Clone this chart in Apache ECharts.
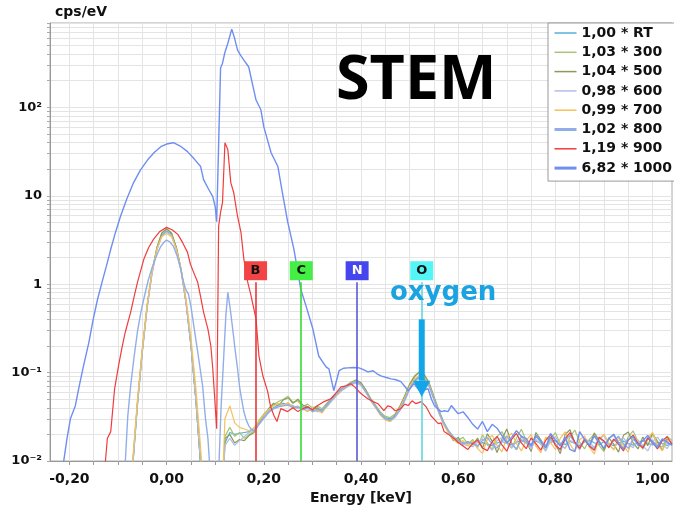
<!DOCTYPE html>
<html><head><meta charset="utf-8">
<script src="https://cdn.jsdelivr.net/npm/echarts@6/dist/echarts.min.js"></script>
<style>html,body{margin:0;padding:0;background:#fff}#c{width:674px;height:510px}</style>
</head><body><div id="c"></div>
<script>
// ---------------- DATA ----------------
const seriesNames = ['1,00 * RT','1,03 * 300','1,04 * 500','0,98 * 600','0,99 * 700','1,02 * 800','1,19 * 900','6,82 * 1000'];

// shared energy grid (keV) for the narrow-peak spectra
const peakEnergy = [-0.08,-0.07,-0.06,-0.05,-0.04,-0.03,-0.02,-0.01,0,0.01,0.02,0.03,0.04,0.05,0.06,0.07,0.08,0.09,0.10,0.11];
const midEnergy = [0.12,0.13,0.14,0.15,0.16,0.17,0.18,0.19,0.20,0.21,0.22,0.23,0.24,0.25,0.26,0.27,0.28,0.29,0.30,0.31,0.32,0.33,0.34,0.35,0.36,0.37,0.38,0.39,0.40,0.41,0.42,0.43,0.44,0.45,0.46,0.47,0.48,0.49,0.50,0.51,0.52,0.53,0.54,0.55,0.56,0.57,0.58,0.59,0.60,0.61,0.62];
const tailEnergy = [0.63,0.64,0.65,0.66,0.67,0.68,0.69,0.70,0.71,0.72,0.73,0.74,0.75,0.76,0.77,0.78,0.79,0.80,0.81,0.82,0.83,0.84,0.85,0.86,0.87,0.88,0.89,0.90,0.91,0.92,0.93,0.94,0.95,0.96,0.97,0.98,0.99,1.00,1.01,1.02,1.03,1.04];

// cps/eV on peakEnergy + midEnergy + tailEnergy
const cpsRT = [
 0.001,0.0085,0.044,0.175,0.56,1.35,2.5,3.6,4.0,3.65,2.55,1.42,0.62,0.21,0.052,0.0095,0.001,0.001,0.001,0.001,
 0.016,0.021,0.02,0.0205,0.021,0.0215,0.023,0.027,0.031,0.036,
 0.040,0.043,0.045,0.044,0.042,0.040,0.041,0.039,0.038,0.039,
 0.038,0.042,0.049,0.056,0.063,0.069,0.074,0.078,0.074,0.061,
 0.049,0.041,0.035,0.031,0.030,0.032,0.039,0.050,0.067,0.082,
 0.090,0.087,0.072,0.051,0.036,0.027,0.021,0.0185,0.017,0.0162,0.0158,
 0.0158,0.0150,0.0162,0.0155,0.0149,0.0160,0.0166,0.0158,0.0152,0.0163,
 0.0170,0.0161,0.0155,0.0167,0.0159,0.0151,0.0162,0.0171,0.0160,0.0154,
 0.0166,0.0158,0.0150,0.0164,0.0172,0.0161,0.0153,0.0165,0.0158,0.0149,
 0.0160,0.0168,0.0157,0.0151,0.0163,0.0170,0.0159,0.0152,0.0164,0.0157,
 0.0150,0.0161];
const cps300 = [
 0.001,0.009,0.046,0.18,0.58,1.4,2.6,3.8,4.25,3.8,2.6,1.45,0.63,0.21,0.051,0.009,0.001,0.001,0.001,0.001,
 0.019,0.024,0.019,0.021,0.018,0.02,0.022,0.029,0.034,0.038,
 0.043,0.047,0.05,0.054,0.046,0.048,0.041,0.044,0.04,0.042,
 0.039,0.045,0.052,0.058,0.066,0.072,0.078,0.083,0.076,0.064,
 0.051,0.043,0.036,0.032,0.031,0.034,0.042,0.055,0.074,0.092,
 0.102,0.096,0.077,0.054,0.038,0.028,0.022,0.019,0.0172,0.0185,0.0155,
 0.0175,0.0142,0.0198,0.0160,0.0135,0.0189,0.0215,0.0168,0.0140,0.0182,
 0.0228,0.0171,0.0145,0.0193,0.0160,0.0131,0.0178,0.0210,0.0155,0.0139,
 0.0186,0.0224,0.0164,0.0137,0.0175,0.0201,0.0150,0.0128,0.0180,0.0196,
 0.0158,0.0141,0.0188,0.0219,0.0166,0.0136,0.0174,0.0205,0.0153,0.0144,
 0.0191,0.0170];
const cps500 = [
 0.001,0.0088,0.045,0.178,0.57,1.38,2.58,3.78,4.2,3.78,2.6,1.44,0.62,0.2,0.05,0.009,0.001,0.001,0.001,0.001,
 0.018,0.02,0.016,0.0175,0.017,0.0195,0.021,0.026,0.033,0.039,
 0.045,0.042,0.049,0.052,0.045,0.05,0.043,0.041,0.037,0.04,
 0.036,0.044,0.051,0.059,0.065,0.071,0.077,0.082,0.077,0.063,
 0.05,0.041,0.034,0.03,0.029,0.033,0.041,0.054,0.073,0.09,
 0.1,0.094,0.076,0.053,0.037,0.027,0.0215,0.017,0.0185,0.0152,0.0166,
 0.0152,0.0181,0.0139,0.0203,0.0168,0.0125,0.0176,0.0230,0.0159,0.0134,
 0.0190,0.0166,0.0128,0.0210,0.0174,0.0143,0.0185,0.0157,0.0121,0.0198,
 0.0226,0.0162,0.0138,0.0179,0.0147,0.0208,0.0171,0.0133,0.0183,0.0155,
 0.0126,0.0195,0.0213,0.0160,0.0137,0.0187,0.0149,0.0204,0.0167,0.0131,
 0.0178,0.0158];
const cps600 = [
 0.001,0.0082,0.042,0.168,0.54,1.3,2.42,3.5,3.9,3.55,2.48,1.38,0.6,0.2,0.05,0.0092,0.001,0.001,0.001,0.001,
 0.015,0.018,0.015,0.017,0.019,0.021,0.023,0.026,0.03,0.035,
 0.039,0.042,0.043,0.045,0.041,0.039,0.04,0.037,0.039,0.036,
 0.037,0.041,0.048,0.055,0.062,0.068,0.073,0.076,0.072,0.06,
 0.048,0.04,0.034,0.03,0.028,0.031,0.037,0.048,0.064,0.079,
 0.087,0.084,0.07,0.05,0.035,0.026,0.021,0.0178,0.0163,0.0155,0.0149,
 0.0145,0.0163,0.0178,0.0151,0.0132,0.0170,0.0185,0.0158,0.0140,0.0166,
 0.0192,0.0160,0.0137,0.0175,0.0154,0.0129,0.0168,0.0189,0.0150,0.0139,
 0.0172,0.0158,0.0134,0.0181,0.0165,0.0142,0.0176,0.0194,0.0152,0.0136,
 0.0169,0.0183,0.0155,0.0141,0.0173,0.0149,0.0130,0.0167,0.0186,0.0156,
 0.0138,0.0171];
const cps700 = [
 0.001,0.01,0.05,0.19,0.6,1.4,2.5,3.45,3.75,3.45,2.5,1.45,0.68,0.25,0.068,0.014,0.002,0.001,0.001,0.001,
 0.03,0.042,0.027,0.024,0.023,0.022,0.024,0.028,0.033,0.038,
 0.042,0.045,0.043,0.046,0.04,0.042,0.039,0.036,0.04,0.037,
 0.035,0.042,0.05,0.056,0.064,0.07,0.076,0.08,0.073,0.061,
 0.048,0.04,0.033,0.029,0.028,0.032,0.04,0.052,0.07,0.085,
 0.093,0.089,0.073,0.051,0.036,0.026,0.0205,0.0175,0.0158,0.017,0.0148,
 0.0169,0.0138,0.0122,0.0176,0.0195,0.0150,0.0127,0.0183,0.0206,0.0158,
 0.0130,0.0171,0.0199,0.0147,0.0124,0.0187,0.0162,0.0135,0.0180,0.0214,
 0.0155,0.0128,0.0174,0.0192,0.0143,0.0120,0.0178,0.0201,0.0160,0.0133,
 0.0185,0.0148,0.0126,0.0190,0.0167,0.0139,0.0181,0.0210,0.0153,0.0131,
 0.0172,0.0163];

// [energy keV, cps/eV] up to 0.62 keV, then values on tailEnergy
const head800 = [[-0.087,0.005],[-0.085,0.0098],[-0.08,0.032],[-0.074,0.071],[-0.067,0.15],[-0.06,0.29],[-0.053,0.48],[-0.047,0.68],[-0.038,1.1],[-0.029,1.6],[-0.02,2.15],[-0.012,2.68],[-0.005,3.0],[0,3.15],[0.007,3.0],[0.014,2.68],[0.022,2.05],[0.029,1.48],[0.034,1.1],[0.039,0.88],[0.045,0.77],[0.05,0.56],[0.054,0.4],[0.059,0.26],[0.064,0.171],[0.069,0.11],[0.074,0.071],[0.08,0.03],[0.085,0.018],[0.088,0.01],[0.092,0.004],[0.104,0.004],[0.108,0.01],[0.112,0.04],[0.118,0.171],[0.122,0.45],[0.126,0.81],[0.131,0.52],[0.136,0.31],[0.141,0.18],[0.146,0.11],[0.15,0.07],[0.153,0.055],[0.159,0.036],[0.164,0.029],[0.169,0.025],[0.175,0.0225],[0.18,0.022],[0.19,0.026],[0.2,0.031],[0.21,0.036],[0.22,0.039],[0.23,0.041],[0.24,0.042],[0.25,0.043],[0.26,0.04],[0.27,0.041],[0.28,0.038],[0.29,0.04],[0.3,0.036],[0.31,0.038],[0.32,0.037],[0.33,0.043],[0.34,0.05],[0.35,0.058],[0.36,0.065],[0.37,0.07],[0.38,0.076],[0.39,0.08],[0.4,0.074],[0.41,0.06],[0.42,0.049],[0.43,0.041],[0.44,0.034],[0.45,0.03],[0.46,0.029],[0.47,0.032],[0.48,0.038],[0.49,0.049],[0.5,0.066],[0.51,0.08],[0.52,0.088],[0.53,0.085],[0.54,0.071],[0.55,0.05],[0.56,0.036],[0.57,0.027],[0.58,0.022],[0.59,0.0185],[0.6,0.0168],[0.61,0.0158],[0.62,0.0163]];
const tail800 = [0.0160,0.0147,0.0171,0.0185,0.0154,0.0140,0.0167,0.0192,0.0158,0.0136,0.0174,0.0162,0.0145,0.0188,0.0169,0.0143,0.0178,0.0155,0.0133,0.0172,0.0196,0.0160,0.0141,0.0176,0.0150,0.0137,0.0183,0.0165,0.0146,0.0170,0.0190,0.0157,0.0139,0.0175,0.0161,0.0144,0.0186,0.0168,0.0148,0.0173,0.0159,0.0152];

const head900 = [[-0.13,0.004],[-0.126,0.0098],[-0.122,0.018],[-0.115,0.0215],[-0.107,0.066],[-0.099,0.119],[-0.092,0.19],[-0.085,0.288],[-0.074,0.484],[-0.067,0.72],[-0.06,1.05],[-0.047,1.91],[-0.037,2.6],[-0.027,3.21],[-0.014,3.95],[0,4.39],[0.012,4.1],[0.023,3.66],[0.033,2.95],[0.043,2.29],[0.049,1.68],[0.057,1.3],[0.064,1.05],[0.07,0.72],[0.076,0.484],[0.085,0.311],[0.091,0.2],[0.095,0.11],[0.099,0.0506],[0.103,0.0232],[0.107,4.5],[0.111,6.5],[0.115,8.4],[0.12,39.8],[0.126,33.2],[0.132,14.1],[0.138,10.9],[0.146,5.83],[0.153,3.85],[0.159,1.91],[0.167,1.05],[0.173,0.77],[0.184,0.403],[0.19,0.154],[0.198,0.092],[0.208,0.0608],[0.214,0.041],[0.221,0.0325],[0.227,0.028],[0.235,0.0391],[0.249,0.0362],[0.26,0.04],[0.27,0.0362],[0.28,0.039],[0.291,0.041],[0.3,0.038],[0.311,0.0424],[0.324,0.047],[0.338,0.0506],[0.35,0.06],[0.359,0.0688],[0.37,0.071],[0.379,0.0747],[0.388,0.068],[0.396,0.0608],[0.405,0.055],[0.414,0.0506],[0.425,0.047],[0.435,0.0445],[0.447,0.0372],[0.455,0.042],[0.462,0.041],[0.47,0.037],[0.482,0.0391],[0.49,0.044],[0.497,0.0424],[0.505,0.048],[0.513,0.0445],[0.524,0.047],[0.534,0.041],[0.544,0.0325],[0.55,0.03],[0.559,0.0265],[0.565,0.027],[0.571,0.0215],[0.58,0.02],[0.592,0.0179],[0.6,0.0162],[0.61,0.0148],[0.62,0.0135]];
const tail900 = [0.0158,0.0172,0.0140,0.0131,0.0165,0.0190,0.0152,0.0129,0.0176,0.0205,0.0160,0.0138,0.0182,0.0157,0.0133,0.0171,0.0199,0.0150,0.0136,0.0178,0.0210,0.0163,0.0139,0.0174,0.0147,0.0132,0.0186,0.0168,0.0141,0.0177,0.0154,0.0130,0.0173,0.0196,0.0158,0.0140,0.0181,0.0162,0.0137,0.0170,0.0188,0.0155];

const head1000 = [[-0.22,0.004],[-0.212,0.0098],[-0.205,0.018],[-0.198,0.03],[-0.188,0.042],[-0.18,0.07],[-0.171,0.119],[-0.16,0.22],[-0.151,0.403],[-0.142,0.68],[-0.133,1.05],[-0.124,1.6],[-0.115,2.48],[-0.105,3.9],[-0.095,5.83],[-0.082,9.2],[-0.068,14.1],[-0.054,19.5],[-0.039,25.5],[-0.025,31],[-0.012,35.9],[0,38.5],[0.014,39.8],[0.028,36.5],[0.043,31.6],[0.057,26],[0.07,21.4],[0.076,15.2],[0.087,11.7],[0.095,9.8],[0.1,7.5],[0.103,5.1],[0.111,278],[0.115,316],[0.12,420],[0.126,531],[0.134,767],[0.14,600],[0.146,444],[0.152,390],[0.159,343],[0.169,286],[0.176,190],[0.184,121],[0.194,93.9],[0.2,60.2],[0.208,42],[0.215,30.7],[0.229,21.4],[0.238,11],[0.249,5.1],[0.262,2.48],[0.276,0.878],[0.287,0.565],[0.301,0.311],[0.313,0.154],[0.328,0.116],[0.334,0.11],[0.344,0.0624],[0.355,0.105],[0.364,0.112],[0.373,0.113],[0.385,0.114],[0.396,0.113],[0.405,0.108],[0.414,0.102],[0.425,0.105],[0.433,0.097],[0.441,0.092],[0.452,0.088],[0.462,0.085],[0.472,0.083],[0.482,0.079],[0.49,0.07],[0.497,0.0624],[0.503,0.068],[0.509,0.075],[0.517,0.066],[0.524,0.0608],[0.531,0.064],[0.538,0.0656],[0.545,0.05],[0.551,0.0424],[0.558,0.039],[0.565,0.0362],[0.572,0.037],[0.579,0.0362],[0.586,0.0424],[0.593,0.038],[0.6,0.0343],[0.61,0.036],[0.62,0.031]];
const tail1000 = [0.026,0.023,0.028,0.0215,0.026,0.0235,0.0194,0.016,0.0185,0.022,0.019,0.0179,0.0150,0.0195,0.0168,0.0140,0.0205,0.0172,0.0148,0.0185,0.0135,0.0128,0.0215,0.0176,0.0150,0.0192,0.0163,0.0140,0.0180,0.0201,0.0158,0.0136,0.0175,0.0189,0.0150,0.0170,0.0195,0.0160,0.0142,0.0178,0.0165,0.0150];

// axis ticks
const xTickValues = [-0.2,-0.15,-0.1,-0.05,0,0.05,0.1,0.15,0.2,0.25,0.3,0.35,0.4,0.45,0.5,0.55,0.6,0.65,0.7,0.75,0.8,0.85,0.9,0.95,1.0];
const xLabelValues = [-0.2,0,0.2,0.4,0.6,0.8,1.0];
const yTickValues = [0.01,0.02,0.03,0.04,0.05,0.06,0.07,0.08,0.09,0.1,0.2,0.3,0.4,0.5,0.6,0.7,0.8,0.9,1,2,3,4,5,6,7,8,9,10,20,30,40,50,60,70,80,90,100,200,300,400,500,600,700,800,900];
const yLabelValues = [0.01,0.1,1,10,100];

// element markers
const elementNames = ['B','C','N','O'];
const elementEnergies = [0.183,0.277,0.392,0.525];

// ---------------- STYLE ----------------
const seriesColors = ['#55b0d8','#a6c47a','#8a9a58','#b3bde3','#f5c15a','#92aee8','#f03c3c','#6e8ef2'];
const seriesWidths = [1.2,1.2,1.2,1.2,1.2,1.4,1.2,1.4];
const legendWidths = [1.5,1.5,1.5,1.5,1.5,3,1.5,3];
const boxColors = ['#f24444','#44ee44','#4646ee','#55f5f5'];
const boxText = ['#111','#111','#fff','#111'];
const lineColors = ['#e83838','#33dd33','#5a5ad6','#5fd6e0'];
const FONT = 'DejaVu Sans';

const zip = (xs, ys) => xs.map((x, i) => [x, ys[i]]);
const gridEnergy = peakEnergy.concat(midEnergy, tailEnergy);
const dataSets = [
  zip(gridEnergy, cpsRT), zip(gridEnergy, cps300), zip(gridEnergy, cps500),
  zip(gridEnergy, cps600), zip(gridEnergy, cps700),
  head800.concat(zip(tailEnergy, tail800)),
  head900.concat(zip(tailEnergy, tail900)),
  head1000.concat(zip(tailEnergy, tail1000))
];

const chart = echarts.init(document.getElementById('c'), null, {renderer: 'canvas'});
const sup = {'-2':'10⁻²','-1':'10⁻¹','0':'1','1':'10','2':'10²'};

const series = seriesNames.map((n, i) => ({
  name: n, type: 'line', data: dataSets[i], symbol: 'none', showSymbol: false,
  lineStyle: {color: seriesColors[i], width: seriesWidths[i]},
  itemStyle: {color: seriesColors[i]}, clip: true, silent: true
}));

series.push({
  name: 'markers', type: 'line', data: [], silent: true,
  markLine: {
    silent: true, symbol: ['none','none'], label: {show: false}, animation: false,
    data: elementEnergies.map((e, i) => [
      {coord: [e, 1.05], lineStyle: {color: lineColors[i], width: 1.6, type: 'solid'}},
      {coord: [e, 0.01], lineStyle: {color: lineColors[i], width: 1.6, type: 'solid'}}
    ])
  },
  markPoint: {
    silent: true, animation: false,
    data: elementEnergies.map((e, i) => ({
      coord: [e, 1.42], symbol: 'rect', symbolSize: [23, 19],
      itemStyle: {color: boxColors[i]},
      label: {show: true, position: 'inside', formatter: elementNames[i], color: boxText[i],
              fontFamily: FONT, fontWeight: 'bold', fontSize: 13}
    }))
  }
});

chart.setOption({
  animation: false,
  textStyle: {fontFamily: FONT},
  grid: {left: 50, top: 23, right: 2, bottom: 47, show: true, borderColor: '#aaa', borderWidth: 1, backgroundColor: '#fff'},
  xAxis: {
    type: 'value', min: -0.24, max: 1.04,
    name: 'Energy [keV]', nameLocation: 'middle', nameGap: 30,
    nameTextStyle: {fontFamily: FONT, fontWeight: 'bold', fontSize: 14, color: '#111'},
    axisLine: {show: true, onZero: false, lineStyle: {color: '#999'}},
    axisTick: {show: true, length: 4, lineStyle: {color: '#999'}, customValues: xTickValues},
    axisLabel: {customValues: xLabelValues, margin: 11, fontFamily: FONT, fontWeight: 'bold', fontSize: 14, color: '#111',
      formatter: v => v.toFixed(2).replace('.', ',')},
    splitLine: {show: true, lineStyle: {color: '#e4e4e4', width: 1}}
  },
  yAxis: {
    type: 'log', logBase: 10, min: 0.01, max: 900,
    name: 'cps/eV', nameLocation: 'end', nameGap: 4,
    nameTextStyle: {fontFamily: FONT, fontWeight: 'bold', fontSize: 14, color: '#111', align: 'left', padding: [0,0,0,5]},
    axisLine: {show: true, onZero: false, lineStyle: {color: '#999'}},
    axisTick: {show: true, length: 3, lineStyle: {color: '#aaa'}, customValues: yTickValues},
    axisLabel: {customValues: yLabelValues, margin: 8, fontFamily: FONT, fontWeight: 'bold', fontSize: 13, color: '#111',
      formatter: v => sup[String(Math.round(Math.log10(v)))] || ''},
    splitLine: {show: true, lineStyle: {color: '#e4e4e4', width: 1}}
  },
  legend: {
    data: seriesNames.map((n, i) => ({name: n, lineStyle: {width: legendWidths[i]}, itemStyle: {opacity: 0}})),
    orient: 'vertical', left: 548, top: 23, padding: [3, 8, 6, 5],
    itemWidth: 22, itemHeight: 14, itemGap: 5.3,
    itemStyle: {opacity: 0},
    backgroundColor: '#fff', borderColor: '#999', borderWidth: 1, borderRadius: 0,
    selectedMode: false,
    textStyle: {fontFamily: FONT, fontWeight: 'bold', fontSize: 14, color: '#111'}
  },
  series: series
});

// annotations anchored in data coordinates
const toPx = p => chart.convertToPixel({gridIndex: 0}, p);
const arrowTop = toPx([elementEnergies[3], 0.40]);
const arrowBase = toPx([elementEnergies[3], 0.081]);
const arrowTip = toPx([elementEnergies[3], 0.053]);
const oxyPos = toPx([0.569, 0.79]);
const arrowColor = '#12a5e8';

chart.setOption({
  graphic: [
    {type: 'text', left: 336, top: 51, z: 100,
     style: {text: 'STEM', font: 'bold 61px "Open Sans"', fill: '#000'}},
    {type: 'text', x: oxyPos[0], y: oxyPos[1], z: 100,
     style: {text: 'oxygen', font: 'bold 26px "DejaVu Sans"', fill: '#1aa3e0', textAlign: 'center', textVerticalAlign: 'middle'}},
    {type: 'rect', z: 100, shape: {x: arrowTop[0] - 3, y: arrowTop[1], width: 6, height: arrowBase[1] - arrowTop[1]},
     style: {fill: arrowColor}},
    {type: 'polygon', z: 100, shape: {points: [[arrowBase[0] - 8.5, arrowBase[1]], [arrowBase[0] + 8.5, arrowBase[1]], [arrowTip[0], arrowTip[1]]]},
     style: {fill: arrowColor}}
  ]
});
</script>
</body></html>
